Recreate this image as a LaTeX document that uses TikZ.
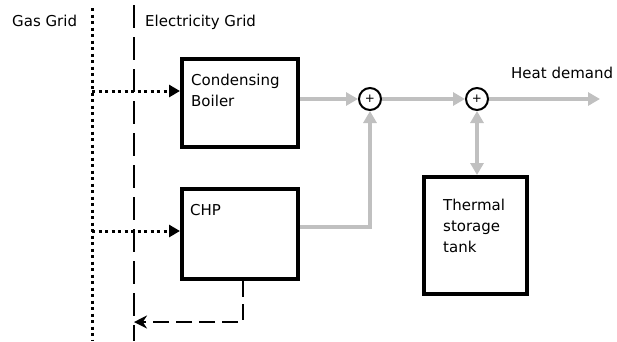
\documentclass[tikz,border=0pt]{standalone}
\usepackage{fontspec}
\setmainfont{DejaVu Sans}
\usetikzlibrary{arrows.meta, positioning, calc}
\definecolor{heatgray}{RGB}{192, 192, 192}
\tikzset{
  comp/.style     = {rectangle, draw=black, line width=4pt, fill=white, anchor=north west},
  lbl/.style      = {font=\fontsize{15}{21}\selectfont, align=left, inner sep=0pt},
  sumnode/.style  = {circle, draw=black, line width=2pt, fill=white, minimum size=22pt, inner sep=0pt, font=\fontsize{12}{12}\selectfont},
  heat/.style     = {-{Triangle[length=12pt,width=13pt]}, line width=4.5pt, heatgray},
  heatbi/.style   = {{Triangle[length=12pt,width=13pt]}-{Triangle[length=12pt,width=13pt]}, line width=4.5pt, heatgray},
  gasline/.style  = {line width=3pt, dash pattern=on 3pt off 3.5pt},
  gas/.style      = {gasline, -{Triangle[length=11pt,width=12pt]}},
  elecline/.style = {line width=2.5pt, dash pattern=on 23pt off 9pt},
  elec/.style     = {line width=2.5pt, dash pattern=on 16pt off 7pt, -{Stealth[length=13pt,width=13pt]}},
}

\begin{document}
\begin{tikzpicture}[x=1pt, y=-1pt]
  % Rahmen wie Vorlage
  \useasboundingbox (0,0) rectangle (617,341);

  % Netze
  \node[lbl, anchor=base west] (gaslbl) at (12,26) {Gas Grid};
  \node[lbl, anchor=base west] (eleclbl) at (145,26) {Electricity Grid};
  \draw[gasline] (92,8) -- (92,341);
  \draw[elecline] (134,5) -- (134,341);

  % Komponenten
  \node[comp, minimum width=116pt, minimum height=88pt] (boiler) at (180,57) {};
  \node[lbl, anchor=north west] (boilertxt) at (191,74) {Condensing\\Boiler};
  \node[comp, minimum width=116pt, minimum height=90pt] (chp) at (180,187) {};
  \node[lbl, anchor=base west] (chptxt) at (190,215) {CHP};
  \node[comp, minimum width=103pt, minimum height=117pt] (tank) at (422,175) {};
  \node[lbl, anchor=north west] (tanktxt) at (443,199) {Thermal\\storage\\tank};

  % Summenpunkte
  \node[sumnode] (s1) at (370,99) {+};
  \node[sumnode] (s2) at (477,99) {+};
  \coordinate (demand) at (600,99);
  \node[lbl, anchor=base west] (demandlbl) at (511,78) {Heat demand};

  % Gas
  \coordinate (gasb) at (92,91);
  \coordinate (gasc) at (92,231);
  \draw[gas] (gasb) -- (gasb -| boiler.west);
  \draw[gas] (gasc) -- (gasc -| chp.west);

  % Waerme
  \draw[heat] (s1 -| boiler.east) -- (s1);
  \draw[heat] ([yshift=7pt]chp.east) -| (s1);
  \draw[heat] (s1) -- (s2);
  \draw[heat] (s2) -- (demand);
  \draw[heatbi] (s2) -- (s2 |- tank.north);

  % Strom zurueck ins Netz
  \coordinate (elecin) at (134,322);
  \draw[elec] ([xshift=3pt]chp.south) |- (elecin);

\end{tikzpicture}
\end{document}
